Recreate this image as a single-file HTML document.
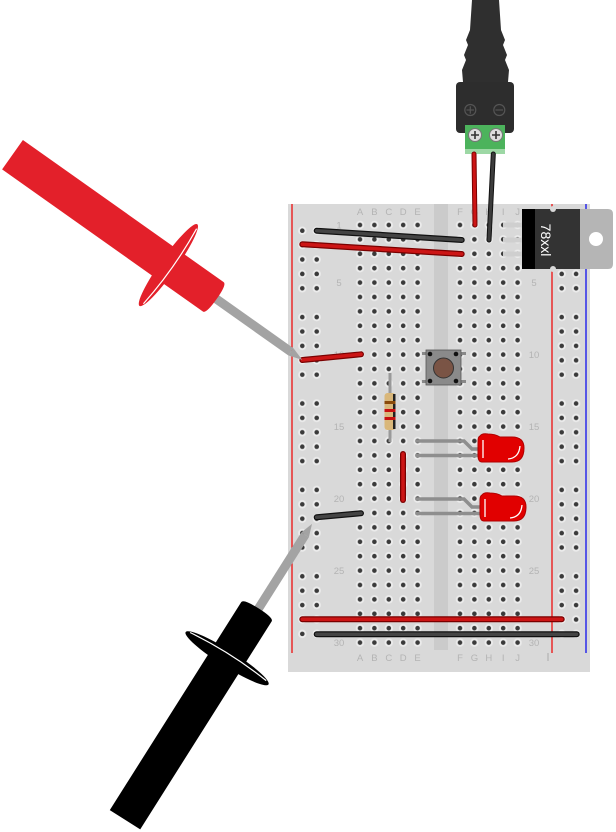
<!DOCTYPE html>
<html><head><meta charset="utf-8"><style>html,body{margin:0;padding:0;background:#fff}svg{display:block}</style></head>
<body>
<svg width="616" height="832" viewBox="0 0 616 832" xmlns="http://www.w3.org/2000/svg" font-family="Liberation Sans, sans-serif">
<defs>
<pattern id="g" x="352.8" y="217.8" width="14.4" height="14.4" patternUnits="userSpaceOnUse">
<circle cx="7.2" cy="7.2" r="4.2" fill="#ececec"/><circle cx="7.2" cy="7.2" r="2.3" fill="#3a3a3a"/></pattern>
<pattern id="g2" x="452.8" y="217.8" width="14.4" height="14.4" patternUnits="userSpaceOnUse">
<circle cx="7.2" cy="7.2" r="4.2" fill="#ececec"/><circle cx="7.2" cy="7.2" r="2.3" fill="#3a3a3a"/></pattern>
<pattern id="rl" x="295.1" y="223.5" width="14.4" height="86.4" patternUnits="userSpaceOnUse">
<g><circle cx="7.2" cy="7.2" r="4.2" fill="#ececec"/><circle cx="7.2" cy="7.2" r="2.3" fill="#3a3a3a"/>
<circle cx="7.2" cy="21.6" r="4.2" fill="#ececec"/><circle cx="7.2" cy="21.6" r="2.3" fill="#3a3a3a"/>
<circle cx="7.2" cy="36" r="4.2" fill="#ececec"/><circle cx="7.2" cy="36" r="2.3" fill="#3a3a3a"/>
<circle cx="7.2" cy="50.4" r="4.2" fill="#ececec"/><circle cx="7.2" cy="50.4" r="2.3" fill="#3a3a3a"/>
<circle cx="7.2" cy="64.8" r="4.2" fill="#ececec"/><circle cx="7.2" cy="64.8" r="2.3" fill="#3a3a3a"/></g></pattern>
<pattern id="rr" x="554.5" y="223.5" width="14.4" height="86.4" patternUnits="userSpaceOnUse">
<circle cx="7.2" cy="7.2" r="4.2" fill="#ececec"/><circle cx="7.2" cy="7.2" r="2.3" fill="#3a3a3a"/>
<circle cx="7.2" cy="21.6" r="4.2" fill="#ececec"/><circle cx="7.2" cy="21.6" r="2.3" fill="#3a3a3a"/>
<circle cx="7.2" cy="36" r="4.2" fill="#ececec"/><circle cx="7.2" cy="36" r="2.3" fill="#3a3a3a"/>
<circle cx="7.2" cy="50.4" r="4.2" fill="#ececec"/><circle cx="7.2" cy="50.4" r="2.3" fill="#3a3a3a"/>
<circle cx="7.2" cy="64.8" r="4.2" fill="#ececec"/><circle cx="7.2" cy="64.8" r="2.3" fill="#3a3a3a"/></pattern>
</defs>

<!-- board -->
<rect x="288" y="204" width="302" height="468" fill="#d9d9d9"/>
<rect x="434" y="204" width="14" height="446" fill="#cbcbcb"/>
<line x1="292" y1="204" x2="292" y2="653" stroke="#e00" stroke-width="1.2"/>
<line x1="552" y1="204" x2="552" y2="653" stroke="#e00" stroke-width="1.2"/>
<line x1="586" y1="204" x2="586" y2="653" stroke="#00e" stroke-width="1.2"/>
<line x1="548" y1="653" x2="548" y2="661" stroke="#aaa" stroke-width="1"/>
<rect x="352.8" y="217.8" width="72" height="432" fill="url(#g)"/>
<rect x="452.8" y="217.8" width="72" height="432" fill="url(#g2)"/>
<rect x="295.1" y="223.5" width="28.8" height="432" fill="url(#rl)"/>
<rect x="554.5" y="223.5" width="28.8" height="432" fill="url(#rr)"/>

<g fill="#b4b4b4" font-size="9.5" text-anchor="middle">
<text x="360" y="215">A</text><text x="374.4" y="215">B</text><text x="388.8" y="215">C</text><text x="403.2" y="215">D</text><text x="417.6" y="215">E</text>
<text x="460" y="215">F</text><text x="474.4" y="215">G</text><text x="488.8" y="215">H</text><text x="503.2" y="215">I</text><text x="517.6" y="215">J</text>
<text x="360" y="661">A</text><text x="374.4" y="661">B</text><text x="388.8" y="661">C</text><text x="403.2" y="661">D</text><text x="417.6" y="661">E</text>
<text x="460" y="661">F</text><text x="474.4" y="661">G</text><text x="488.8" y="661">H</text><text x="503.2" y="661">I</text><text x="517.6" y="661">J</text>
<text x="339" y="228.5">1</text>
<text x="339" y="286">5</text><text x="534" y="286">5</text>
<text x="339" y="358">10</text><text x="534" y="358">10</text>
<text x="339" y="430">15</text><text x="534" y="430">15</text>
<text x="339" y="502">20</text><text x="534" y="502">20</text>
<text x="339" y="574">25</text><text x="534" y="574">25</text>
<text x="339" y="646">30</text><text x="534" y="646">30</text>
</g>

<!-- DC jack -->
<path d="M472 0 L499 0 L501 30 L505 40 L503 45 L507 55 L505 60 L509 70 L508 82 L463 82 L462 70 L466 60 L464 55 L468 45 L466 40 L470 30 Z" fill="#2f2f2f"/>
<rect x="456" y="82" width="58" height="51" rx="4" fill="#2d2d2d"/>
<circle cx="470.3" cy="110" r="5.5" fill="none" stroke="#555" stroke-width="1.2"/>
<line x1="466.5" y1="110" x2="474" y2="110" stroke="#555" stroke-width="1.2"/><line x1="470.3" y1="106.3" x2="470.3" y2="113.7" stroke="#555" stroke-width="1.2"/>
<circle cx="499.3" cy="110" r="5.5" fill="none" stroke="#555" stroke-width="1.2"/>
<line x1="495.5" y1="110" x2="503" y2="110" stroke="#555" stroke-width="1.2"/>
<rect x="465" y="125" width="40" height="29" fill="#4cb35c"/>
<rect x="465" y="149" width="40" height="5" fill="#9dd8a5"/>
<circle cx="475" cy="135" r="6.5" fill="#ddd" stroke="#777"/><circle cx="496" cy="135" r="6.5" fill="#ddd" stroke="#777"/>
<path d="M471 135h8M475 131v8M492 135h8M496 131v8" stroke="#333" stroke-width="1.6"/>

<!-- wires -->
<g stroke-linecap="round">
<line x1="474" y1="154" x2="475" y2="225" stroke="#7a0000" stroke-width="5"/>
<line x1="474" y1="154" x2="475" y2="225" stroke="#cc1515" stroke-width="3"/>
<line x1="493.3" y1="154" x2="489" y2="240" stroke="#111" stroke-width="5"/>
<line x1="493.3" y1="154" x2="489" y2="240" stroke="#3c3c3c" stroke-width="3"/>
<line x1="316.7" y1="230.7" x2="461.7" y2="240" stroke="#111" stroke-width="6"/>
<line x1="316.7" y1="230.7" x2="461.7" y2="240" stroke="#444" stroke-width="3.5"/>
<line x1="302.3" y1="244.3" x2="461.7" y2="254" stroke="#7a0000" stroke-width="6"/>
<line x1="302.3" y1="244.3" x2="461.7" y2="254" stroke="#cc1515" stroke-width="3.5"/>
<line x1="302.3" y1="360" x2="361" y2="354.3" stroke="#7a0000" stroke-width="6"/>
<line x1="302.3" y1="360" x2="361" y2="354.3" stroke="#cc1515" stroke-width="3.5"/>
<line x1="403" y1="454" x2="403" y2="500" stroke="#7a0000" stroke-width="6"/>
<line x1="403" y1="454" x2="403" y2="500" stroke="#cc1515" stroke-width="3.5"/>
<line x1="316.7" y1="517.3" x2="361" y2="513.3" stroke="#111" stroke-width="6"/>
<line x1="316.7" y1="517.3" x2="361" y2="513.3" stroke="#444" stroke-width="3.5"/>
<line x1="302.3" y1="619.3" x2="561.7" y2="619.3" stroke="#7a0000" stroke-width="6"/>
<line x1="302.3" y1="619.3" x2="561.7" y2="619.3" stroke="#cc1515" stroke-width="3.5"/>
<line x1="316.7" y1="634.3" x2="576.7" y2="634.3" stroke="#111" stroke-width="6"/>
<line x1="316.7" y1="634.3" x2="576.7" y2="634.3" stroke="#444" stroke-width="3.5"/>
</g>

<!-- regulator -->
<g fill="#cfcfcf"><rect x="503" y="222.5" width="20" height="5"/><rect x="503" y="237.5" width="20" height="5"/><rect x="503" y="251.5" width="20" height="5"/></g>
<path d="M580 209 H608 Q613 209 613 214 V264 Q613 269 608 269 H580 Z" fill="#b5b5b5"/>
<circle cx="596" cy="239" r="7" fill="#fff"/>
<rect x="522" y="209" width="13" height="60" fill="#000"/>
<rect x="535" y="209" width="45" height="60" fill="#333"/>
<circle cx="553" cy="209" r="3" fill="#d9d9d9"/><circle cx="553" cy="269" r="3" fill="#d9d9d9"/>
<text x="0" y="0" transform="translate(541,240) rotate(90)" fill="#fff" font-size="14" text-anchor="middle">78xxl</text>

<!-- pushbutton -->
<rect x="422" y="352" width="44" height="3" fill="#888"/><rect x="422" y="380" width="44" height="3" fill="#888"/>
<rect x="426" y="350" width="35" height="35" fill="#8a8a8a" stroke="#555" stroke-width="0.8"/>
<circle cx="443.5" cy="368" r="10" fill="#7a5445" stroke="#333" stroke-width="1"/>
<g fill="#111"><circle cx="430" cy="354" r="2.3"/><circle cx="456" cy="354" r="2.3"/><circle cx="430" cy="381" r="2.3"/><circle cx="456" cy="381" r="2.3"/></g>

<!-- resistor -->
<line x1="390" y1="373" x2="390" y2="442" stroke="#999" stroke-width="3"/>
<rect x="384.5" y="393" width="11" height="37" rx="3" fill="#d9b77a"/>
<rect x="393" y="394" width="2.5" height="35" fill="#222"/>
<rect x="384.5" y="401" width="11" height="3" fill="#8a4a0a"/>
<rect x="384.5" y="409" width="11" height="3" fill="#c81010"/>
<rect x="384.5" y="417" width="11" height="3" fill="#c81010"/>

<!-- LEDs -->
<g fill="none" stroke="#8e8e8e" stroke-width="3.5" stroke-linecap="round">
<path d="M417 441 H464 L472 449 H480"/><path d="M417 455.5 H480"/>
<path d="M417 499 H464 L472 507 H482"/><path d="M417 513.5 H482"/>
</g>
<g>
<path d="M480 436 Q482 433 488 434 Q495 434 500 437 H512 Q524 437 524 448 Q524 462 512 462 H482 Q478 462 478 455 V441 Q478 437 480 436Z" fill="#e10000" stroke="#b00000" stroke-width="1"/>
<path d="M483 440 V458 M508 459 Q519 458 520 446" stroke="#fff" stroke-width="1.3" fill="none"/>
<path d="M482 495 Q484 492 490 493 Q497 493 502 496 H514 Q526 496 526 507 Q526 521 514 521 H484 Q480 521 480 514 V500 Q480 496 482 495Z" fill="#e10000" stroke="#b00000" stroke-width="1"/>
<path d="M485 499 V517 M510 518 Q521 517 522 505" stroke="#fff" stroke-width="1.3" fill="none"/>
</g>

<!-- red probe -->
<g transform="translate(12.5,154.7) rotate(35.3)">
<rect x="249" y="-4.5" width="92" height="9" fill="#a3a3a3"/>
<path d="M341 -4.5 L355 0 L341 4.5 Z" fill="#a3a3a3"/>
<path d="M0 -18 H246 Q250 -18 250 0 Q250 18 246 18 H0 Z" fill="#e3202a"/>
<ellipse cx="191" cy="0" rx="8" ry="50" fill="#e3202a"/>
<path d="M193 -46 Q198 0 193 46" stroke="#fff" stroke-width="1.2" fill="none"/>
</g>

<!-- black probe -->
<g transform="translate(125,819.7) rotate(-57.7)">
<rect x="249" y="-4.5" width="88" height="9" fill="#a3a3a3"/>
<path d="M337 -4.5 L350 0 L337 4.5 Z" fill="#a3a3a3"/>
<path d="M0 -18 H246 Q250 -18 250 0 Q250 18 246 18 H0 Z" fill="#000"/>
<ellipse cx="191" cy="0" rx="8" ry="49" fill="#000"/>
<path d="M193 -45 Q198 0 193 45" stroke="#fff" stroke-width="1.2" fill="none"/>
</g>
</svg>
</body></html>
